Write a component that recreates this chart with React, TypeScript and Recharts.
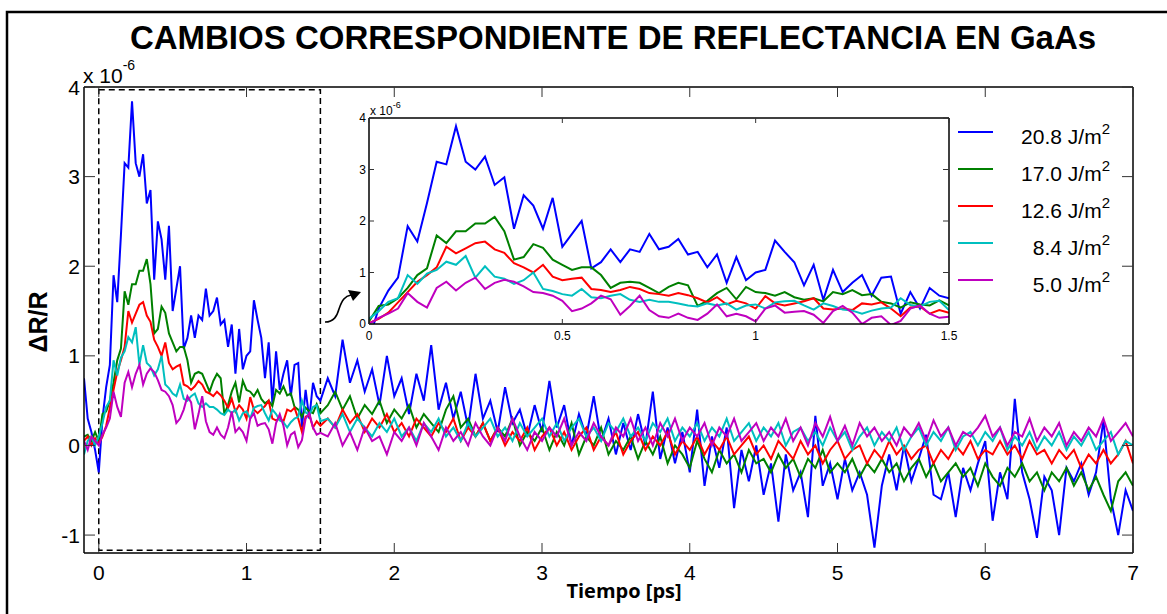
import React from "react";
import { Legend, Line, LineChart, ReferenceArea, XAxis, YAxis } from "recharts";

// sample times in ps: 25 fs steps up to 1.5 ps, then 50 fs steps
const time = [
  -0.1, -0.075, -0.05, -0.025,
  0, 0.025, 0.05, 0.075, 0.1, 0.125, 0.15, 0.175, 0.2, 0.225,
  0.25, 0.275, 0.3, 0.325, 0.35, 0.375, 0.4, 0.425, 0.45, 0.475,
  0.5, 0.525, 0.55, 0.575, 0.6, 0.625, 0.65, 0.675, 0.7, 0.725,
  0.75, 0.775, 0.8, 0.825, 0.85, 0.875, 0.9, 0.925, 0.95, 0.975,
  1, 1.025, 1.05, 1.075, 1.1, 1.125, 1.15, 1.175, 1.2, 1.225,
  1.25, 1.275, 1.3, 1.325, 1.35, 1.375, 1.4, 1.425, 1.45, 1.475, 1.5,
  1.55, 1.6, 1.65, 1.7, 1.75, 1.8, 1.85, 1.9, 1.95, 2,
  2.05, 2.1, 2.15, 2.2, 2.25, 2.3, 2.35, 2.4, 2.45, 2.5,
  2.55, 2.6, 2.65, 2.7, 2.75, 2.8, 2.85, 2.9, 2.95, 3,
  3.05, 3.1, 3.15, 3.2, 3.25, 3.3, 3.35, 3.4, 3.45, 3.5,
  3.55, 3.6, 3.65, 3.7, 3.75, 3.8, 3.85, 3.9, 3.95, 4,
  4.05, 4.1, 4.15, 4.2, 4.25, 4.3, 4.35, 4.4, 4.45, 4.5,
  4.55, 4.6, 4.65, 4.7, 4.75, 4.8, 4.85, 4.9, 4.95, 5,
  5.05, 5.1, 5.15, 5.2, 5.25, 5.3, 5.35, 5.4, 5.45, 5.5,
  5.55, 5.6, 5.65, 5.7, 5.75, 5.8, 5.85, 5.9, 5.95, 6,
  6.05, 6.1, 6.15, 6.2, 6.25, 6.3, 6.35, 6.4, 6.45, 6.5,
  6.55, 6.6, 6.65, 6.7, 6.75, 6.8, 6.85, 6.9, 6.95, 7,
];

// ΔR/R in units of 1e-6, one array per pump fluence
const dr208 = [
  0.75, 0.3, 0.15, -0.05,
  -0.3, 0.3, 0.65, 0.9, 1.9, 1.6, 2.35, 3.15, 3.1, 3.84,
  3.15, 3.0, 3.25, 2.7, 2.85, 1.85, 2.5, 2.3, 1.85, 2.45,
  1.5, 1.75, 2.0, 1.08, 1.2, 1.45, 1.2, 1.45, 1.4, 1.75,
  1.45, 1.5, 1.65, 1.35, 1.4, 1.1, 1.35, 0.8, 1.3, 0.85,
  1.0, 1.05, 1.62, 1.4, 1.2, 0.75, 1.15, 0.47, 1.05, 0.62,
  0.8, 0.95, 0.55, 0.9, 0.92, 0.2, 0.62, 0.3, 0.7, 0.55, 0.5,
  0.75, 0.55, 1.18, 0.7, 0.95, 0.6, 0.85, 0.45, 1.0, 0.55,
  0.75, 0.35, 0.8, 0.5, 1.12, 0.4, 0.7, 0.3, 0.6, 0.2,
  0.8, 0.3, 0.5, 0.15, 0.65, 0.25, 0.4, 0.1, 0.45, 0.15,
  0.72, 0.2, 0.45, 0.0, 0.35, 0.1, 0.55, 0.05, 0.3, -0.1,
  0.25, -0.05, 0.35, 0.0, 0.6, -0.15, 0.2, -0.2, 0.15, -0.3,
  0.4, -0.45, 0.1, -0.25, 0.2, -0.7, -0.05, -0.4, 0.0, -0.55,
  -0.2, -0.85, -0.1, -0.5, -0.3, -0.8, 0.33, -0.45, -0.2, -0.6,
  -0.15, -0.5, -0.3, -0.55, -1.14, -0.45, -0.1, -0.5, 0.0, -0.4,
  -0.15, 0.12, -0.55, -0.6, -0.3, -0.8, -0.25, -0.5, -0.2, 0.05,
  -0.84, -0.3, -0.6, 0.52, -0.3, -0.6, -1.03, -0.35, -0.5, -1.0,
  -0.25, -0.4, -0.2, -0.55, -0.3, 0.28, -0.6, -1.0, -0.5, -0.73,
];

const dr170 = [
  0.1, 0.12, 0.05, 0.15,
  0.05, 0.35, 0.38, 0.5, 0.7, 0.95, 1.08, 1.72, 1.57, 1.8,
  1.8, 1.95, 1.95, 2.08, 1.8, 1.25, 1.3, 1.55, 1.48, 1.25,
  1.15, 1.05, 1.1, 1.1, 0.95, 0.7, 0.8, 0.82, 0.8, 0.7,
  0.6, 0.72, 0.8, 0.75, 0.35, 0.45, 0.6, 0.7, 0.48, 0.72,
  0.62, 0.6, 0.55, 0.62, 0.52, 0.47, 0.5, 0.44, 0.62, 0.58,
  0.66, 0.56, 0.58, 0.43, 0.4, 0.32, 0.42, 0.38, 0.36, 0.46, 0.36,
  0.45, 0.6, 0.4, 0.55, 0.3, 0.45, 0.35, 0.5, 0.25, 0.4,
  0.3, 0.45, 0.2, 0.35, 0.25, 0.15, 0.4, 0.55, 0.2, 0.3,
  0.1, 0.25, 0.05, 0.2, 0.1, 0.3, 0.0, 0.15, 0.05, 0.2,
  -0.05, 0.15, 0.0, 0.25, -0.1, 0.1, 0.0, 0.2, -0.1, 0.05,
  -0.05, 0.1, -0.15, 0.05, -0.1, 0.1, -0.2, 0.0, -0.1, -0.25,
  0.05, -0.15, -0.3, -0.05, -0.2, -0.1, -0.3, -0.05, -0.2, -0.15,
  -0.3, -0.1, -0.25, -0.15, -0.35, -0.15, -0.25, -0.05, -0.3, -0.2,
  -0.3, -0.15, -0.35, -0.2, -0.3, -0.15, -0.3, -0.2, -0.4, -0.25,
  -0.15, -0.35, -0.2, -0.4, -0.3, -0.2, -0.35, -0.25, -0.45, -0.2,
  -0.35, -0.45, -0.25, -0.35, -0.2, -0.4, -0.3, -0.5, -0.3, -0.4,
  -0.25, -0.45, -0.3, -0.5, -0.35, -0.55, -0.73, -0.4, -0.3, -0.45,
];

const dr126 = [
  0.05, 0.1, 0.0, 0.08,
  0.02, 0.1, 0.22, 0.42, 0.62, 0.82, 0.95, 1.1, 1.5, 1.37,
  1.47, 1.57, 1.6, 1.45, 1.38, 1.18, 1.1, 1.0, 1.15, 0.92,
  0.85, 0.88, 0.9, 0.68, 0.66, 0.62, 0.66, 0.72, 0.68, 0.6,
  0.58, 0.55, 0.6, 0.56, 0.5, 0.42, 0.52, 0.38, 0.45, 0.4,
  0.3, 0.54, 0.4, 0.36, 0.4, 0.44, 0.5, 0.3, 0.28, 0.3,
  0.27, 0.4, 0.38, 0.42, 0.3, 0.15, 0.32, 0.34, 0.2, 0.27, 0.22,
  0.3, 0.2, 0.4, 0.25, 0.35, 0.15, 0.3, 0.2, 0.35, 0.15,
  0.25, 0.1, 0.3, 0.2, 0.1, 0.25, 0.15, 0.3, 0.05, 0.2,
  0.1, 0.25, 0.05, 0.2, 0.0, 0.15, 0.05, 0.2, -0.05, 0.1,
  0.2, 0.0, 0.15, -0.05, 0.1, 0.2, -0.05, 0.1, 0.0, 0.15,
  -0.1, 0.05, 0.15, -0.05, 0.1, 0.0, 0.15, -0.1, 0.05, -0.05,
  0.1, -0.1, 0.05, -0.05, 0.1, -0.1, 0.0, 0.1, -0.1, 0.0,
  -0.15, 0.05, -0.05, -0.15, 0.05, -0.1, 0.0, -0.2, -0.05, 0.05,
  -0.15, -0.05, 0.0, -0.2, -0.05, -0.15, 0.05, -0.1, 0.0, -0.15,
  -0.05, 0.0, -0.2, -0.05, -0.15, 0.0, -0.1, 0.05, -0.15, -0.05,
  -0.1, 0.05, -0.1, 0.0, -0.15, 0.05, -0.1, -0.05, -0.2, -0.05,
  -0.15, -0.05, -0.25, -0.1, -0.2, -0.05, -0.2, -0.1, 0.05, -0.2,
];

const dr084 = [
  -0.1, 0.05, 0.1, 0.0,
  0.1, 0.25, 0.43, 0.5, 0.95, 0.78, 0.98, 1.05, 1.21, 1.15,
  1.32, 0.9, 1.12, 0.92, 0.88, 0.78, 0.85, 1.0, 0.68, 0.64,
  0.58, 0.55, 0.68, 0.52, 0.5, 0.55, 0.58, 0.47, 0.43, 0.47,
  0.43, 0.43, 0.4, 0.36, 0.34, 0.4, 0.36, 0.4, 0.28, 0.36,
  0.38, 0.3, 0.42, 0.44, 0.45, 0.36, 0.28, 0.4, 0.35, 0.28,
  0.26, 0.2, 0.26, 0.3, 0.32, 0.5, 0.37, 0.34, 0.43, 0.45, 0.27,
  0.3, 0.2, 0.35, 0.15, 0.3, 0.2, 0.1, 0.25, 0.15, 0.3,
  0.1, 0.2, 0.05, 0.25, 0.15, 0.3, 0.1, 0.2, 0.05, 0.25,
  0.1, 0.2, 0.3, 0.1, 0.2, 0.05, 0.25, 0.1, 0.2, 0.3,
  0.1, 0.25, 0.05, 0.2, 0.3, 0.1, 0.2, 0.05, 0.25, 0.15,
  0.3, 0.1, 0.2, 0.05, 0.25, 0.15, 0.3, 0.05, 0.2, 0.1,
  0.25, 0.05, 0.2, 0.1, 0.3, 0.05, 0.15, 0.25, 0.05, 0.2,
  0.1, 0.25, 0.0, 0.15, 0.2, 0.05, 0.15, 0.0, 0.2, 0.05,
  0.15, -0.05, 0.1, 0.2, 0.0, 0.15, 0.05, 0.2, -0.05, 0.1,
  0.2, 0.0, 0.15, 0.05, 0.2, -0.05, 0.1, 0.15, 0.0, 0.15,
  0.05, 0.2, -0.05, 0.1, 0.0, 0.15, -0.05, 0.1, 0.0, 0.15,
  -0.05, 0.1, 0.0, 0.15, -0.05, 0.05, 0.15, -0.1, 0.05, 0.0,
];

const dr050 = [
  0.05, -0.05, 0.1, 0.05,
  0.0, 0.12, 0.2, 0.3, 0.6, 0.43, 0.32, 0.7, 0.82, 0.65,
  0.8, 0.9, 0.68, 0.8, 0.86, 0.82, 0.73, 0.62, 0.6, 0.55,
  0.45, 0.25, 0.3, 0.4, 0.55, 0.48, 0.18, 0.35, 0.55, 0.27,
  0.15, 0.12, 0.2, 0.12, 0.08, 0.2, 0.38, 0.15, 0.2, 0.15,
  0.05, 0.3, 0.36, 0.22, 0.24, 0.25, 0.18, 0.02, 0.25, 0.35,
  0.22, 0.0, 0.12, 0.15, -0.02, 0.06, 0.3, 0.36, 0.2, 0.12, 0.14,
  0.1, 0.25, 0.0, 0.15, -0.05, 0.2, 0.05, 0.1, -0.1, 0.15,
  0.05, 0.2, 0.0, 0.25, 0.1, -0.05, 0.2, 0.05, 0.15, 0.0,
  0.25, 0.1, 0.0, 0.2, 0.05, 0.3, 0.1, -0.05, 0.15, 0.05,
  0.2, 0.1, 0.3, 0.0, 0.15, 0.05, 0.25, 0.1, 0.0, 0.2,
  0.1, 0.3, 0.05, 0.2, 0.0, 0.25, 0.1, 0.3, 0.05, 0.2,
  0.1, 0.25, 0.0, 0.2, 0.1, 0.3, 0.05, 0.15, 0.25, 0.05,
  0.2, 0.1, 0.3, 0.05, 0.2, 0.0, 0.25, 0.1, 0.32, 0.05,
  0.22, 0.0, 0.25, 0.1, 0.2, 0.05, 0.15, 0.0, 0.2, 0.1,
  0.25, 0.05, 0.28, 0.1, 0.2, 0.0, 0.15, 0.1, 0.2, 0.33,
  0.1, 0.2, 0.0, 0.15, 0.1, 0.3, 0.05, 0.2, 0.1, 0.25,
  0.0, 0.15, 0.05, 0.2, 0.1, 0.3, 0.05, 0.15, 0.25, 0.1,
];

const fluences = ["20.8", "17.0", "12.6", "8.4", "5.0"];
const colors = ["#0000ff", "#008000", "#ff0000", "#00bfbf", "#bf00bf"];
const traces = [dr208, dr170, dr126, dr084, dr050];

const mainXTicks = [0, 1, 2, 3, 4, 5, 6, 7];
const mainYTicks = [-1, 0, 1, 2, 3, 4];
const insetXTicks = [0, 0.5, 1, 1.5];
const insetYTicks = [0, 1, 2, 3, 4];

// window of the main plot that is blown up in the inset
const zoomWindow = { t0: 0, t1: 1.5, lo: -1.17, hi: 3.97 };

const rows = time.map((t, i) => {
  const row: Record<string, number> = { t };
  traces.forEach((vals, k) => {
    row[`s${k}`] = vals[i];
  });
  return row;
});
const insetRows = rows.filter((r) => r.t >= zoomWindow.t0 && r.t <= zoomWindow.t1);

const FONT = '"Liberation Sans", Arial, Helvetica, sans-serif';
const TICK = "#333";

type Box = { left: number; right: number; top: number; bottom: number };
const MAIN: Box = { left: 84, right: 1133, top: 87, bottom: 553 };
// inset plot box in the inset chart's own coordinates
const INSET: Box = { left: 39, right: 619, top: 23, bottom: 229 };

const bottomTick = (box: Box, len: number, size: number, gap: number) => (p: any) => (
  <g>
    <line x1={p.x} x2={p.x} y1={box.bottom} y2={box.bottom - len} stroke={TICK} />
    <text x={p.x} y={box.bottom + gap} textAnchor="middle" fontSize={size} fontFamily={FONT} fill="#000">
      {p.payload.value}
    </text>
  </g>
);

const topTick = (box: Box, len: number) => (p: any) => (
  <line x1={p.x} x2={p.x} y1={box.top} y2={box.top + len} stroke={TICK} />
);

const leftTick = (box: Box, len: number, size: number, gap: number, dy: number) => (p: any) => (
  <g>
    <line x1={box.left} x2={box.left + len} y1={p.y} y2={p.y} stroke={TICK} />
    <text x={box.left - gap} y={p.y + dy} textAnchor="end" fontSize={size} fontFamily={FONT} fill="#000">
      {p.payload.value}
    </text>
  </g>
);

const rightTick = (box: Box, len: number) => (p: any) => (
  <line x1={box.right} x2={box.right - len} y1={p.y} y2={p.y} stroke={TICK} />
);

// legend rows keep the plotting order (highest fluence first)
const FluenceLegend = ({ payload }: any) => {
  const entries = [...(payload || [])].sort(
    (a: any, b: any) => fluences.indexOf(a.value) - fluences.indexOf(b.value)
  );
  return (
    <svg width={170} height={190} style={{ display: "block" }}>
      {entries.map((entry: any, i: number) => (
        <g key={entry.value} transform={`translate(0, ${i * 37})`}>
          <line x1={3} x2={38} y1={14} y2={14} stroke={entry.color} strokeWidth={2} />
          <text x={155} y={26} textAnchor="end" fontSize={21} fontFamily={FONT} fill="#000">
            {entry.value} J/m
            <tspan fontSize={15} dy={-10}>2</tspan>
          </text>
        </g>
      ))}
    </svg>
  );
};

const axisStroke = { stroke: "#000", strokeWidth: 1.5 };

export default function App() {
  return (
    <div style={{ position: "absolute", left: 0, top: 0, width: 1167, height: 614, background: "#fff" }}>
      <div style={{ position: "absolute", left: 0, top: 0 }}>
        <LineChart width={1167} height={614} data={rows} margin={{ top: 0, right: 0, bottom: 0, left: 0 }}>
          <XAxis
            dataKey="t"
            type="number"
            domain={[-0.1, 7]}
            ticks={mainXTicks}
            allowDataOverflow
            height={614 - MAIN.bottom}
            axisLine={axisStroke}
            tickLine={false}
            tick={bottomTick(MAIN, 10, 21, 27)}
            interval={0}
          />
          <XAxis
            xAxisId="top"
            orientation="top"
            dataKey="t"
            type="number"
            domain={[-0.1, 7]}
            ticks={mainXTicks}
            allowDataOverflow
            height={MAIN.top}
            axisLine={axisStroke}
            tickLine={false}
            tick={topTick(MAIN, 10)}
            interval={0}
          />
          <YAxis
            type="number"
            domain={[-1.2, 4]}
            ticks={mainYTicks}
            allowDataOverflow
            width={MAIN.left}
            axisLine={axisStroke}
            tickLine={false}
            tick={leftTick(MAIN, 11, 21, 4, 7.5)}
            interval={0}
          />
          <YAxis
            yAxisId="right"
            orientation="right"
            type="number"
            domain={[-1.2, 4]}
            ticks={mainYTicks}
            allowDataOverflow
            width={1167 - MAIN.right}
            axisLine={axisStroke}
            tickLine={false}
            tick={rightTick(MAIN, 11)}
            interval={0}
          />
          <ReferenceArea
            x1={zoomWindow.t0}
            x2={zoomWindow.t1}
            y1={zoomWindow.lo}
            y2={zoomWindow.hi}
            fill="none"
            stroke="#000"
            strokeWidth={1.5}
            strokeDasharray="6 4"
            ifOverflow="visible"
          />
          {traces.map((_, k) => (
            <Line
              key={k}
              dataKey={`s${k}`}
              name={fluences[k]}
              type="linear"
              stroke={colors[k]}
              strokeWidth={2}
              dot={false}
              activeDot={false}
              isAnimationActive={false}
            />
          ))}
          <Legend
            layout="vertical"
            align="center"
            verticalAlign="middle"
            wrapperStyle={{ left: 955, top: 118, width: 170, height: 190 }}
            content={FluenceLegend}
          />
        </LineChart>
      </div>

      {/* white backing for the inset plot box */}
      <div style={{ position: "absolute", left: 369, top: 118, width: 580, height: 206, background: "#fff" }} />

      <div style={{ position: "absolute", left: 330, top: 95 }}>
        <LineChart width={640} height={250} data={insetRows} margin={{ top: 0, right: 0, bottom: 0, left: 0 }}>
          <XAxis
            dataKey="t"
            type="number"
            domain={[0, 1.5]}
            ticks={insetXTicks}
            allowDataOverflow
            height={250 - INSET.bottom}
            axisLine={axisStroke}
            tickLine={false}
            tick={bottomTick(INSET, 5, 12, 16)}
            interval={0}
          />
          <XAxis
            xAxisId="top"
            orientation="top"
            dataKey="t"
            type="number"
            domain={[0, 1.5]}
            ticks={insetXTicks}
            allowDataOverflow
            height={INSET.top}
            axisLine={axisStroke}
            tickLine={false}
            tick={topTick(INSET, 5)}
            interval={0}
          />
          <YAxis
            type="number"
            domain={[0, 4]}
            ticks={insetYTicks}
            allowDataOverflow
            width={INSET.left}
            axisLine={axisStroke}
            tickLine={false}
            tick={leftTick(INSET, 5, 12, 3, 4.3)}
            interval={0}
          />
          <YAxis
            yAxisId="right"
            orientation="right"
            type="number"
            domain={[0, 4]}
            ticks={insetYTicks}
            allowDataOverflow
            width={640 - INSET.right}
            axisLine={axisStroke}
            tickLine={false}
            tick={rightTick(INSET, 6)}
            interval={0}
          />
          {traces.map((_, k) => (
            <Line
              key={k}
              dataKey={`s${k}`}
              name={fluences[k]}
              type="linear"
              stroke={colors[k]}
              strokeWidth={2}
              dot={false}
              activeDot={false}
              legendType="none"
              isAnimationActive={false}
            />
          ))}
        </LineChart>
      </div>

      <svg
        width={1167}
        height={614}
        style={{ position: "absolute", left: 0, top: 0, pointerEvents: "none" }}
      >
        <rect x={7} y={12} width={1170} height={620} fill="none" stroke="#000" strokeWidth={2.5} />
        <text x={613} y={49} textAnchor="middle" fontSize={33} fontWeight="bold" fontFamily={FONT}>
          CAMBIOS CORRESPONDIENTE DE REFLECTANCIA EN GaAs
        </text>
        <text x={83} y={83} fontSize={21} fontFamily={FONT}>
          x 10
          <tspan fontSize={14} dy={-13}>-6</tspan>
        </text>
        <text x={370} y={115} fontSize={12} fontFamily={FONT}>
          x 10
          <tspan fontSize={9} dy={-7}>-6</tspan>
        </text>
        <text
          transform="translate(47, 322) rotate(-90)"
          textAnchor="middle"
          fontSize={25}
          fontWeight="bold"
          fontFamily={FONT}
        >
          ΔR/R
        </text>
        <text
          x={624}
          y={598}
          textAnchor="middle"
          fontSize={20}
          fontWeight="bold"
          fontFamily='"Open Sans", "Noto Sans", sans-serif'
        >
          Tiempo [ps]
        </text>
        <path
          d="M 325 322 C 334 322, 337 316, 339 309 C 342 300, 345 296, 351 295"
          fill="none"
          stroke="#000"
          strokeWidth={1.6}
        />
        <polygon points="348,290 353,301 361,292" fill="#000" />
      </svg>
    </div>
  );
}
